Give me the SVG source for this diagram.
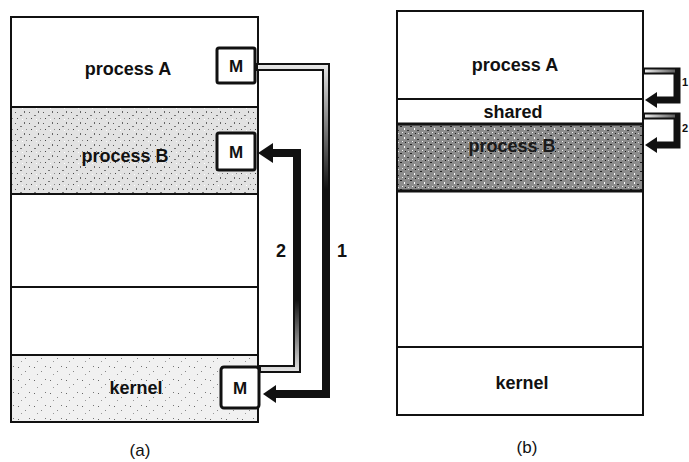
<svg xmlns="http://www.w3.org/2000/svg" width="689" height="462" viewBox="0 0 689 462">
<defs>
<style>
.frame{fill:none;stroke:#111;stroke-width:2}
.div{stroke:#111;stroke-width:2}
.lbl{font-family:"Liberation Sans",Arial,Helvetica,sans-serif;font-weight:bold;font-size:18px;fill:#111;text-anchor:middle}
.cap{font-family:"Liberation Sans",Arial,Helvetica,sans-serif;font-size:17px;fill:#111;text-anchor:middle}
.mbox{fill:#fff;stroke:#111;stroke-width:3}
.shaft{fill:none;stroke:#111;stroke-linejoin:miter}
.head{fill:#111}
</style>
<pattern id="speckLight" width="14" height="11" patternUnits="userSpaceOnUse">
<rect width="14" height="11" fill="#e2e2e2"/>
<rect x="1" y="2" width="1" height="1" fill="#555"/>
<rect x="6" y="5" width="2" height="1" fill="#777"/>
<rect x="10" y="1" width="1" height="2" fill="#666"/>
<rect x="3" y="8" width="1" height="1" fill="#444"/>
<rect x="12" y="8" width="1" height="1" fill="#888"/>
<rect x="8" y="9" width="1" height="1" fill="#fff"/>
</pattern>
<pattern id="speckVLight" width="16" height="13" patternUnits="userSpaceOnUse">
<rect width="16" height="13" fill="#f1f1f1"/>
<rect x="2" y="3" width="1" height="1" fill="#666"/>
<rect x="9" y="7" width="1" height="1" fill="#888"/>
<rect x="13" y="2" width="1" height="1" fill="#777"/>
<rect x="5" y="10" width="1" height="1" fill="#999"/>
</pattern>
<pattern id="speckDark" width="10" height="9" patternUnits="userSpaceOnUse">
<rect width="10" height="9" fill="#8c8c8c"/>
<rect x="0" y="0" width="2" height="1" fill="#222"/>
<rect x="4" y="2" width="1" height="2" fill="#fff"/>
<rect x="7" y="4" width="2" height="1" fill="#333"/>
<rect x="2" y="6" width="1" height="1" fill="#eee"/>
<rect x="8" y="7" width="1" height="1" fill="#ddd"/>
<rect x="5" y="7" width="1" height="1" fill="#111"/>
</pattern>
<linearGradient id="fadeA1" gradientUnits="userSpaceOnUse" x1="0" y1="60" x2="0" y2="190">
<stop offset="0" stop-color="#eee" stop-opacity="1"/>
<stop offset="1" stop-color="#eee" stop-opacity="0"/>
</linearGradient>
<linearGradient id="fadeA2" gradientUnits="userSpaceOnUse" x1="0" y1="375" x2="0" y2="300">
<stop offset="0" stop-color="#eee" stop-opacity="1"/>
<stop offset="1" stop-color="#eee" stop-opacity="0"/>
</linearGradient>
<linearGradient id="fadeB" gradientUnits="userSpaceOnUse" x1="645" y1="0" x2="682" y2="0">
<stop offset="0" stop-color="#eee" stop-opacity="1"/>
<stop offset="1" stop-color="#eee" stop-opacity="0.2"/>
</linearGradient>
</defs>
<rect width="689" height="462" fill="#fff"/>

<!-- Panel (a) -->
<g id="a-processA">
<rect x="11" y="17" width="247" height="90" fill="#fff"/>
<text class="lbl" x="128" y="75">process A</text>
</g>
<g id="a-processB">
<rect x="11" y="107" width="247" height="87" fill="url(#speckLight)"/>
<text class="lbl" x="125" y="162">process B</text>
</g>
<g id="a-empty1"><rect x="11" y="194" width="247" height="93" fill="#fff"/></g>
<g id="a-empty2"><rect x="11" y="287" width="247" height="68" fill="#fff"/></g>
<g id="a-kernel">
<rect x="11" y="355" width="247" height="67" fill="url(#speckVLight)"/>
<text class="lbl" x="136" y="394">kernel</text>
</g>
<g id="a-frame">
<rect class="frame" x="11" y="17" width="247" height="405"/>
<line class="div" x1="11" y1="107" x2="258" y2="107"/>
<line class="div" x1="11" y1="194" x2="258" y2="194"/>
<line class="div" x1="11" y1="287" x2="258" y2="287"/>
<line class="div" x1="11" y1="355" x2="258" y2="355"/>
</g>
<g id="a-M-A">
<rect class="mbox" x="217" y="48" width="38" height="35" rx="2"/>
<text class="lbl" x="236" y="72" style="font-size:17px">M</text>
</g>
<g id="a-M-B">
<rect class="mbox" x="217" y="133" width="38" height="37" rx="2"/>
<text class="lbl" x="236" y="158" style="font-size:17px">M</text>
</g>
<g id="a-M-K">
<rect class="mbox" x="221" y="367" width="38" height="41" rx="3"/>
<text class="lbl" x="240" y="394" style="font-size:17px">M</text>
</g>

<!-- Panel (b) -->
<g id="b-processA">
<rect x="397" y="11" width="246" height="88" fill="#fff"/>
<text class="lbl" x="515" y="71">process A</text>
</g>
<g id="b-shared">
<rect x="397" y="99" width="246" height="25" fill="#fff"/>
<text class="lbl" x="513" y="118">shared</text>
</g>
<g id="b-processB">
<rect x="397" y="124" width="246" height="67" fill="url(#speckDark)"/>
<text class="lbl" x="512" y="152" style="fill:#1a1a1a">process B</text>
</g>
<g id="b-empty"><rect x="397" y="191" width="246" height="156" fill="#fff"/></g>
<g id="b-kernel">
<rect x="397" y="347" width="246" height="68" fill="#fff"/>
<text class="lbl" x="522" y="389">kernel</text>
</g>
<g id="b-frame">
<rect class="frame" x="397" y="11" width="246" height="404"/>
<line class="div" x1="397" y1="99" x2="643" y2="99"/>
<line class="div" x1="397" y1="124" x2="643" y2="124" style="stroke-width:3"/>
<line class="div" x1="397" y1="191" x2="643" y2="191" style="stroke-width:3"/>
<line class="div" x1="397" y1="347" x2="643" y2="347"/>
</g>

<!-- Connectors -->
<g id="connectors">
<path class="shaft" d="M256,67 H326 V394 H274" stroke-width="8"/>
<path d="M258,67 H326 V200" fill="none" stroke="url(#fadeA1)" stroke-width="4"/>
<polygon class="head" points="263,394 276,385 276,403"/>
<path class="shaft" d="M259,369 H297 V153 H271" stroke-width="8"/>
<path d="M261,369 H297 V290" fill="none" stroke="url(#fadeA2)" stroke-width="4"/>
<polygon class="head" points="258,153 273,143 273,163"/>
<path class="shaft" d="M643,71 H677 V100 H655" stroke-width="7"/>
<path d="M645,71 H675" fill="none" stroke="url(#fadeB)" stroke-width="3"/>
<polygon class="head" points="645,100 657,92 657,108"/>
<path class="shaft" d="M643,116 H677 V145 H655" stroke-width="7"/>
<path d="M645,116 H675" fill="none" stroke="url(#fadeB)" stroke-width="3"/>
<polygon class="head" points="645,145 657,137 657,153"/>
</g>

<g id="labels">
<text class="lbl" x="685" y="86" style="font-size:11px">1</text>
<text class="lbl" x="685" y="132" style="font-size:11px">2</text>
<text class="lbl" x="281" y="257">2</text>
<text class="lbl" x="342" y="257">1</text>
<text class="cap" x="140" y="456">(a)</text>
<text class="cap" x="527" y="453">(b)</text>
</g>
</svg>
